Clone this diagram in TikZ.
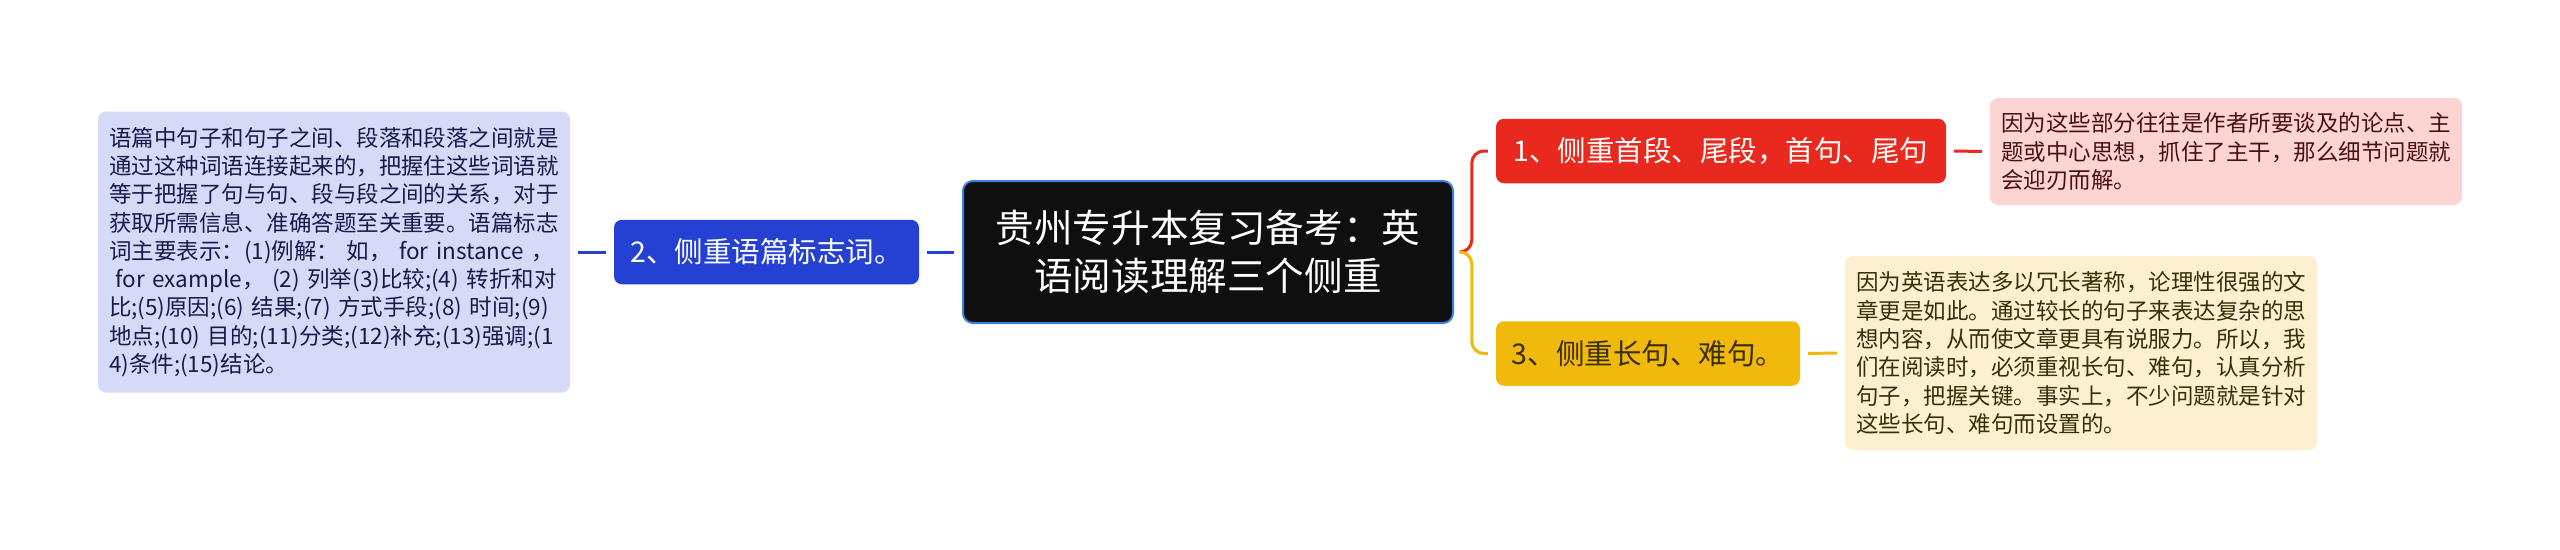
\documentclass[tikz,border=0pt]{standalone}
\usepackage{fontspec}
\setmainfont{Noto Sans CJK SC}
\definecolor{mapblue}{HTML}{2541D4}
\definecolor{mapred}{HTML}{E9291D}
\definecolor{mapyellow}{HTML}{F0B90B}
\definecolor{noteblue}{HTML}{D6DAF7}
\definecolor{notered}{HTML}{FCD4D2}
\definecolor{noteyellow}{HTML}{FCF0D0}
\definecolor{topicedge}{HTML}{3C7FE0}
\definecolor{bluetext}{HTML}{161B4A}
\definecolor{redtext}{HTML}{4A1010}
\definecolor{yellowtext}{HTML}{3A2E06}
\tikzset{topicbox/.style={draw=topicedge, line width=2pt, fill=black!94, text=white, rounded corners=10pt,
    minimum width=490pt, minimum height=142pt, align=center, font=\fontsize{38.6pt}{48pt}\selectfont},
  branch/.style={rounded corners=8pt, inner xsep=10pt, minimum height=64.5pt, font=\fontsize{28.5pt}{34pt}\selectfont},
  notebox/.style={rounded corners=8pt, text width=450pt, inner xsep=11pt, inner ysep=0pt, align=left,
    font=\fontsize{22.5pt}{28.3pt}\selectfont},
  link/.style={line width=3pt, shorten <=8pt, shorten >=8pt}}

\begin{document}
\begin{tikzpicture}[x=1pt, y=-1pt]
  \useasboundingbox[fill=white] (0,0) rectangle (2560,549);
  \node[topicbox] (topic) at (1208,252) {贵州专升本复习备考：英\\语阅读理解三个侧重};
  \node[branch, fill=mapblue, text=white, minimum width=305pt] (sec2) at (766.5,252) {2、侧重语篇标志词。};
  \node[branch, fill=mapred, text=white, minimum width=450pt] (sec1) at (1721,151) {1、侧重首段、尾段，首句、尾句};
  \node[branch, fill=mapyellow, text=yellowtext, minimum width=304pt] (sec3) at (1648,353.5) {3、侧重长句、难句。};
  % notes
  \node[notebox, fill=noteblue, text=bluetext, minimum height=281pt] (note2) at (334,252) {语篇中句子和句子之间、段落和段落之间就是\\
    通过这种词语连接起来的，把握住这些词语就\\
    等于把握了句与句、段与段之间的关系，对于\\
    获取所需信息、准确答题至关重要。语篇标志\\
    词主要表示：(1)例解： 如， for instance ，\\
    \hspace{0.3em}for example， (2) 列举(3)比较;(4) 转折和对\\
    比;(5)原因;(6) 结果;(7) 方式手段;(8) 时间;(9)\\
    地点;(10) 目的;(11)分类;(12)补充;(13)强调;(1\\
    4)条件;(15)结论。};
  \node[notebox, fill=notered, text=redtext, minimum height=107pt] (note1) at (2226,151.5) {因为这些部分往往是作者所要谈及的论点、主\\
    题或中心思想，抓住了主干，那么细节问题就\\
    会迎刃而解。};
  \node[notebox, fill=noteyellow, text=yellowtext, minimum height=194pt] (note3) at (2081,353) {因为英语表达多以冗长著称，论理性很强的文\\
    章更是如此。通过较长的句子来表达复杂的思\\
    想内容，从而使文章更具有说服力。所以，我\\
    们在阅读时，必须重视长句、难句，认真分析\\
    句子，把握关键。事实上，不少问题就是针对\\
    这些长句、难句而设置的。};
  % links
  \draw[link, mapblue] (topic.west) -- (sec2.east);
  \draw[link, mapblue] (sec2.west) -- (note2.east);
  \draw[link, mapred, rounded corners=12pt] (topic.east) -| ([xshift=-24pt]sec1.west) -- (sec1.west);
  \draw[link, mapyellow, rounded corners=12pt] (topic.east) -| ([xshift=-24pt]sec3.west) -- (sec3.west);
  \draw[link, mapred] (sec1.east) -- (note1.west);
  \draw[link, mapyellow] (sec3.east) -- (note3.west);
\end{tikzpicture}
\end{document}
